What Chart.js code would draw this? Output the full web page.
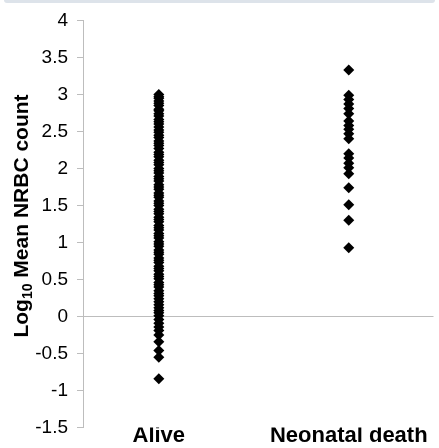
<!DOCTYPE html>
<html>
<head>
<meta charset="utf-8">
<script src="https://cdn.jsdelivr.net/npm/chart.js@4/dist/chart.umd.min.js"></script>
<style>
  html, body { margin: 0; padding: 0; background: #fff; }
  #wrap { position: relative; width: 439px; height: 448px; overflow: hidden; }
  #band { position: absolute; left: 4px; right: 4px; top: 0; height: 3px; background: #dde3ea; border-radius: 0 0 6px 6px; }
  canvas { display: block; }
  #ytitle {
    position: absolute; left: 27px; top: 216px; width: 300px; margin-left: -150px; margin-top: -14px;
    height: 28px; line-height: 28px; text-align: center; white-space: nowrap;
    transform: rotate(-90deg) translateY(-4px);
    font: bold 21px "Liberation Sans", Arial, sans-serif; color: #000;
  }
  #ytitle sub { font-size: 14px; vertical-align: -4px; line-height: 0; }
</style>
</head>
<body>
<div id="wrap">
  <div id="band"></div>
  <canvas id="nrbcChart" width="439" height="448"></canvas>
  <div id="ytitle">Log<sub>10</sub> Mean NRBC count</div>
</div>
<script>
// categories and values
var categories = ['Alive', 'Neonatal death'];
var aliveValues = [3.00, 2.97, 2.95, 2.91, 2.88, 2.85, 2.80, 2.78, 2.74, 2.71, 2.66, 2.63, 2.60, 2.56, 2.52, 2.49,
    2.45, 2.42, 2.37, 2.34, 2.31, 2.27, 2.22, 2.19, 2.16, 2.11, 2.08, 2.05, 2.00, 1.97, 1.94, 1.89, 1.86,
    1.83, 1.78, 1.75, 1.72, 1.67, 1.64, 1.61, 1.56, 1.53, 1.50, 1.45, 1.42, 1.39, 1.34, 1.31, 1.28, 1.23,
    1.20, 1.17, 1.12, 1.09, 1.06, 1.01, 0.98, 0.95, 0.90, 0.87, 0.84, 0.79, 0.76, 0.73, 0.68, 0.65, 0.62,
    0.57, 0.54, 0.51, 0.46, 0.43, 0.40, 0.35, 0.31, 0.28, 0.24, 0.20, 0.16, 0.12, 0.08, 0.05, 0.01,
    -0.04, -0.09, -0.14, -0.19, -0.25, -0.34, -0.46, -0.55, -0.84];
var deathValues = [3.33, 2.99, 2.93, 2.87, 2.81, 2.74, 2.64, 2.58, 2.53, 2.47, 2.40, 2.20, 2.14, 2.07,
    2.01, 1.93, 1.74, 1.51, 1.30, 0.93];
var yTickLabels = ['-1.5', '-1', '-0.5', '0', '0.5', '1', '1.5', '2', '2.5', '3', '3.5', '4'];

var points = [];
aliveValues.forEach(function(v) { points.push({ x: 1, y: v }); });
deathValues.forEach(function(v) { points.push({ x: 2, y: v }); });

var ctx = document.getElementById('nrbcChart').getContext('2d');
new Chart(ctx, {
    type: 'scatter',
    data: {
        datasets: [{
            data: points,
            pointStyle: 'rectRot',
            pointRadius: 5.5,
            pointBorderWidth: 0,
            backgroundColor: '#000',
            borderColor: '#000'
        }]
    },
    options: {
        responsive: false,
        animation: false,
        layout: { padding: { top: 18, right: 0, bottom: 0, left: 0 } },
        plugins: { legend: { display: false }, tooltip: { enabled: false } },
        scales: {
            x: {
                type: 'linear',
                min: 0.601,
                max: 2.446,
                afterBuildTicks: function(scale) {
                    scale.ticks = [{ value: 1 }, { value: 2 }];
                },
                afterFit: function(scale) { scale.height = 20; },
                border: { display: false },
                grid: { display: false, drawTicks: false },
                ticks: {
                    padding: -3,
                    maxRotation: 0,
                    color: '#000',
                    font: { family: '"Liberation Sans", Arial, sans-serif', size: 22, weight: 'bold', lineHeight: 1 },
                    callback: function(v) { return categories[v - 1]; }
                }
            },
            y: {
                type: 'linear',
                min: -1.5,
                max: 4,
                ticks: {
                    stepSize: 0.5,
                    padding: 9,
                    color: '#000',
                    font: { family: '"Liberation Sans", Arial, sans-serif', size: 19 },
                    callback: function(v, i) { return yTickLabels[i]; }
                },
                afterFit: function(scale) { scale.width = 83; },
                border: { display: true, color: '#bdbdbd', width: 1 },
                grid: {
                    drawOnChartArea: true,
                    tickLength: 6,
                    tickColor: '#bdbdbd',
                    color: function(c) { return c.tick && c.tick.value === 0 ? '#bdbdbd' : 'rgba(0,0,0,0)'; }
                }
            }
        }
    }
});
</script>
</body>
</html>
